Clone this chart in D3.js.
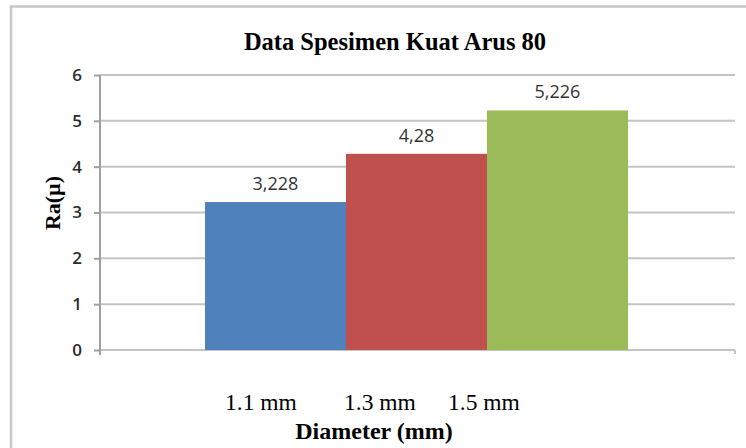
<!DOCTYPE html>
<html>
<head>
<meta charset="utf-8">
<script src="https://cdn.jsdelivr.net/npm/d3@7"></script>
<style>
  body { margin: 0; background: #fff; }
</style>
</head>
<body>
<div id="chart"></div>
<script>
// data
const diameters = ["1.1 mm", "1.3 mm", "1.5 mm"];
const raValues = [3.228, 4.28, 5.226];
const valueLabels = ["3,228", "4,28", "5,226"];
const yTicks = [0, 1, 2, 3, 4, 5, 6];
const barColors = ["#4F81BD", "#C0504D", "#9BBB59"];

// where the (hand placed) category texts sit under the chart
const catLabelX = [261, 380, 484];

const width = 746, height = 448;
const margin = { top: 75, right: 11, bottom: 98, left: 100 };

const svg = d3.select("#chart").append("svg")
    .attr("width", width)
    .attr("height", height);

// outer chart frame (runs off the right / bottom like the scan)
svg.append("path")
    .attr("d", `M11,${height + 2} L11,6.5 L${width + 2},6.5`)
    .attr("fill", "none")
    .attr("stroke", "#c8c8c8")
    .attr("stroke-width", 2.5);

const plotW = width - margin.left - margin.right;
const plotH = height - margin.top - margin.bottom;

const g = svg.append("g").attr("transform", `translate(${margin.left},${margin.top})`);

const y = d3.scaleLinear().domain([0, 6]).range([plotH, 0]);

// single category holding the three series side by side
const x = d3.scaleBand().domain(diameters).range([105, 528]).padding(0);

// gridlines
g.selectAll(".grid")
    .data(yTicks)
    .enter().append("line")
    .attr("x1", 0)
    .attr("x2", plotW)
    .attr("y1", d => y(d))
    .attr("y2", d => y(d))
    .attr("stroke", "#c4c4c4")
    .attr("stroke-width", 2);

// small tick at right end of baseline
g.append("line")
    .attr("x1", plotW).attr("x2", plotW)
    .attr("y1", y(0)).attr("y2", y(0) + 4)
    .attr("stroke", "#c4c4c4").attr("stroke-width", 2);

// y axis
const yAxis = g.append("g")
    .call(d3.axisLeft(y).tickValues(yTicks).tickSize(6).tickPadding(12).tickFormat(d3.format("d")));
yAxis.select(".domain").attr("stroke", "#a0a0a0").attr("stroke-width", 2)
    .attr("d", `M0,0V${plotH + 5}`);
yAxis.selectAll(".tick line").attr("stroke", "#a0a0a0").attr("stroke-width", 2);
yAxis.selectAll(".tick text")
    .attr("fill", "#2b2b2b")
    .style("font-family", "'Open Sans', 'Liberation Sans', sans-serif")
    .style("font-weight", "600")
    .style("font-size", "17px");

// bars
g.selectAll(".bar")
    .data(raValues)
    .enter().append("rect")
    .attr("x", (d, i) => x(diameters[i]))
    .attr("width", x.bandwidth())
    .attr("y", d => y(d))
    .attr("height", d => plotH - y(d))
    .attr("fill", (d, i) => barColors[i]);

// value labels
g.selectAll(".val")
    .data(raValues)
    .enter().append("text")
    .attr("x", (d, i) => x(diameters[i]) + x.bandwidth() / 2)
    .attr("y", d => y(d) - 12)
    .attr("text-anchor", "middle")
    .attr("fill", "#333")
    .style("font-family", "'Open Sans', 'Liberation Sans', sans-serif")
    .style("font-size", "18px")
    .text((d, i) => valueLabels[i]);

// title
svg.append("text")
    .attr("x", 395)
    .attr("y", 50)
    .attr("text-anchor", "middle")
    .style("font-family", "'Liberation Serif', 'Times New Roman', serif")
    .style("font-weight", "bold")
    .style("font-size", "24.5px")
    .text("Data Spesimen Kuat Arus 80");

// category labels
svg.selectAll(".cat")
    .data(diameters)
    .enter().append("text")
    .attr("x", (d, i) => catLabelX[i])
    .attr("y", 410)
    .attr("text-anchor", "middle")
    .style("font-family", "'Liberation Serif', 'Times New Roman', serif")
    .style("font-size", "23.5px")
    .text(d => d);

// x axis title
svg.append("text")
    .attr("x", 374)
    .attr("y", 439)
    .attr("text-anchor", "middle")
    .style("font-family", "'Liberation Serif', 'Times New Roman', serif")
    .style("font-weight", "bold")
    .style("font-size", "24px")
    .text("Diameter (mm)");

// y axis title
svg.append("text")
    .attr("transform", `translate(60,203) rotate(-90)`)
    .attr("text-anchor", "middle")
    .style("font-family", "'Liberation Serif', 'Times New Roman', serif")
    .style("font-weight", "bold")
    .style("font-size", "22px")
    .text("Ra(µ)");
</script>
</body>
</html>
